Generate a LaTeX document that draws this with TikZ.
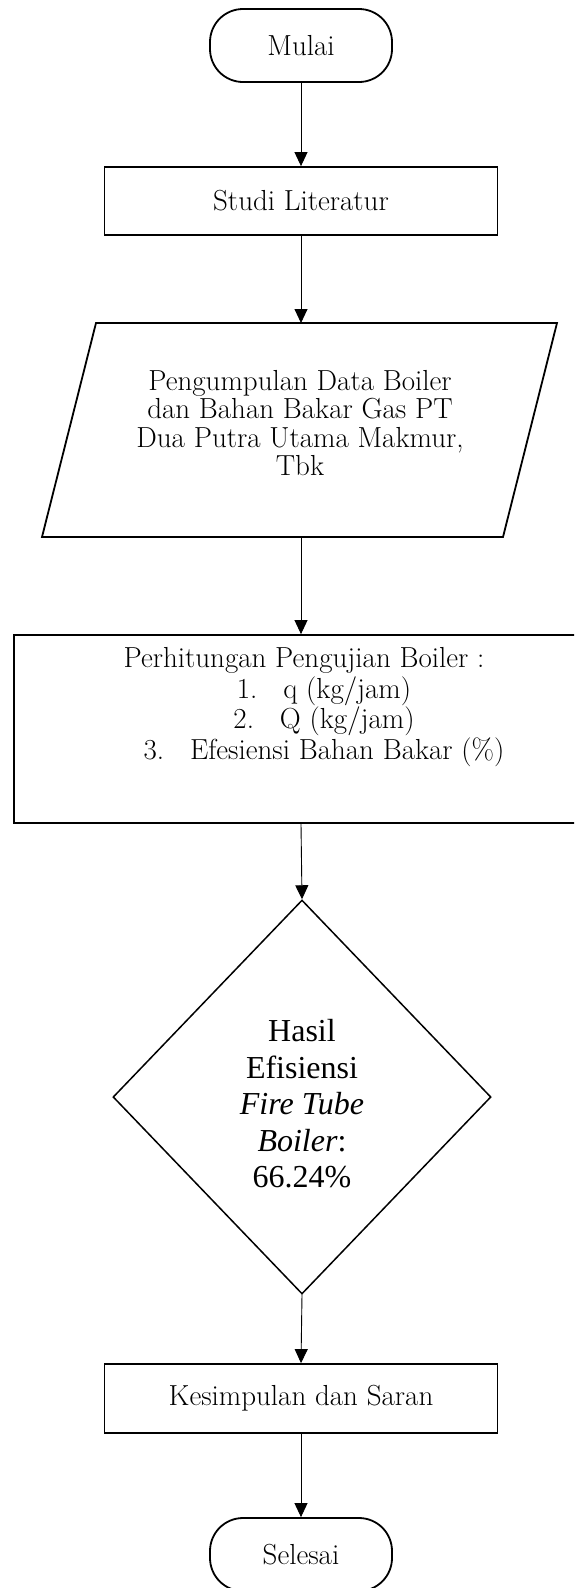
\documentclass[tikz,border=0pt]{standalone}
\usepackage{fontspec}
\newfontfamily\timesfont{Liberation Serif}
\usetikzlibrary{arrows.meta,shapes.geometric}
\begin{document}
\begin{tikzpicture}[x=1pt,y=-1pt,
  box/.style={draw,line width=1.8pt,inner sep=0pt},
  term/.style={box,rounded corners=33pt,minimum width=182pt,minimum height=73pt},
  proc/.style={box,minimum width=393pt},
  flow/.style={-{Triangle[width=13pt,length=14pt]},line width=0.9pt},
  txt/.style={font=\fontsize{29}{28.6}\selectfont,align=center}
]
\useasboundingbox (0,0) rectangle (574,1588);
\clip (0,0) rectangle (574,1588);

% start
\node[term,txt] (mulai) at (301,45.5) {Mulai};

% literature study
\node[proc,txt,minimum height=68pt] (studi) at (301,201) {Studi Literatur};

% data collection (input parallelogram)
\draw[line width=1.8pt] (96,323) -- (557,323) -- (503,537) -- (42,537) -- cycle;
\coordinate (kumpul-n) at (301,323);
\coordinate (kumpul-s) at (301,537);
\node[txt] (kumpul) at (300,423) {Pengumpulan Data Boiler\\dan Bahan Bakar Gas PT\\Dua Putra Utama Makmur,\\Tbk};

% calculation box
\node[box,minimum width=574pt,minimum height=188pt] (hitung) at (301,729) {};
\node[txt,font=\fontsize{29}{30.5}\selectfont] (hitungtxt) at (304,707) {Perhitungan Pengujian Boiler :\\
  \hspace*{40pt}1.\hspace{26pt}q (kg/jam)\\
  \hspace*{40pt}2.\hspace{26pt}Q (kg/jam)\\
  \hspace*{40pt}3.\hspace{26pt}Efesiensi Bahan Bakar (\%)};

% result decision
\node[draw,diamond,line width=1.5pt,inner sep=0pt,minimum width=378pt,minimum height=394pt] (hasil) at (302,1097) {};
\node[align=center,font=\timesfont\fontsize{32}{36.5}\selectfont] (hasiltxt) at (302,1104)
  {Hasil\\Efisiensi\\\textit{Fire Tube}\\\textit{Boiler}:\\66.24\%};

% conclusion
\node[proc,txt,minimum height=69pt] (simpul) at (301,1398.5) {Kesimpulan dan Saran};

% end
\node[term,txt] (selesai) at (301,1554.5) {Selesai};

% connectors
\draw[flow] (mulai.south) -- (studi.north);
\draw[flow] (studi.south) -- (kumpul-n);
\draw[flow] (kumpul-s) -- (hitung.north);
\draw[flow] (hitung.south) -- (hasil.north);
\draw[flow] (hasil.south) -- (simpul.north);
\draw[flow] (simpul.south) -- (selesai.north);
\end{tikzpicture}
\end{document}
